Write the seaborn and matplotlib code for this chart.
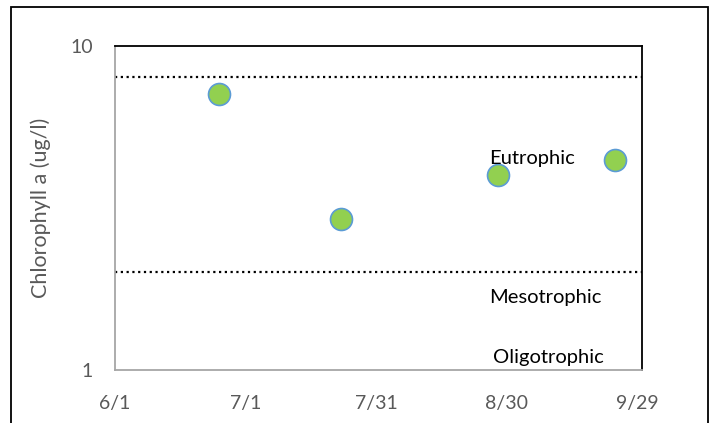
import pandas as pd
import matplotlib.pyplot as plt
import matplotlib.dates as mdates
from matplotlib.patches import Rectangle
import seaborn as sns

# sample dates and chlorophyll values
sample_dates = ['2019-06-25', '2019-07-23', '2019-08-28', '2019-09-24']
chl_values = [7.1, 2.92, 4.0, 4.45]

# trophic state boundaries
boundaries = [8.0, 2.0]
zone_labels = ['Eutrophic', 'Mesotrophic', 'Oligotrophic']
zone_label_y = [4.5, 1.67, 1.09]
zone_label_x = ['2019-08-26', '2019-08-26', '2019-08-27']

tick_dates = ['2019-06-01', '2019-07-01', '2019-07-31', '2019-08-30', '2019-09-29']
tick_labels = ['6/1', '7/1', '7/31', '8/30', '9/29']

df = pd.DataFrame({'date': pd.to_datetime(sample_dates), 'chl': chl_values})

sns.set_style('white')
plt.rcParams['font.family'] = ['Lato', 'DejaVu Sans']

fig = plt.figure(figsize=(7.13, 4.23), dpi=100)
ax = fig.add_axes([115 / 713, 53 / 423, 527 / 713, 324.3 / 423])

# outer chart frame (bottom edge is cut off in the original)
fig.add_artist(Rectangle((11 / 713, -0.05), 697 / 713, (416 / 423) + 0.05,
                         transform=fig.transFigure, fill=False,
                         edgecolor='black', linewidth=1.3))

sns.scatterplot(data=df, x='date', y='chl', ax=ax, s=250,
                color='#92D050', edgecolor='#5B9BD5', linewidth=1.2, zorder=3)

for b in boundaries:
    ax.axhline(b, color='black', linestyle=(0, (1, 1.6)), linewidth=1.6, zorder=2)

for lab, xx, yy in zip(zone_labels, zone_label_x, zone_label_y):
    ax.text(pd.Timestamp(xx), yy, lab, fontsize=14.5, color='black',
            va='center', ha='left')

ax.set_yscale('log')
ax.set_ylim(1, 10)
ax.set_yticks([1, 10])
ax.set_yticklabels(['1', '10'])
ax.minorticks_off()
ax.set_xlim(pd.Timestamp('2019-06-01'), pd.Timestamp('2019-09-30 04:00'))
ax.set_xticks(pd.to_datetime(tick_dates))
ax.set_xticklabels(tick_labels)

ax.tick_params(axis='both', length=0, labelsize=14, labelcolor='#595959')
ax.tick_params(axis='y', pad=16)
ax.tick_params(axis='x', pad=18)
ax.set_xlabel('')
ax.set_ylabel('Chlorophyll a (ug/l)', fontsize=15.5, color='#595959', labelpad=14)

for side in ['top', 'right']:
    ax.spines[side].set_color('black')
    ax.spines[side].set_linewidth(1.3)
for side in ['left', 'bottom']:
    ax.spines[side].set_color('#A6A6A6')
    ax.spines[side].set_linewidth(1.3)

plt.savefig('out.png', dpi=100)
